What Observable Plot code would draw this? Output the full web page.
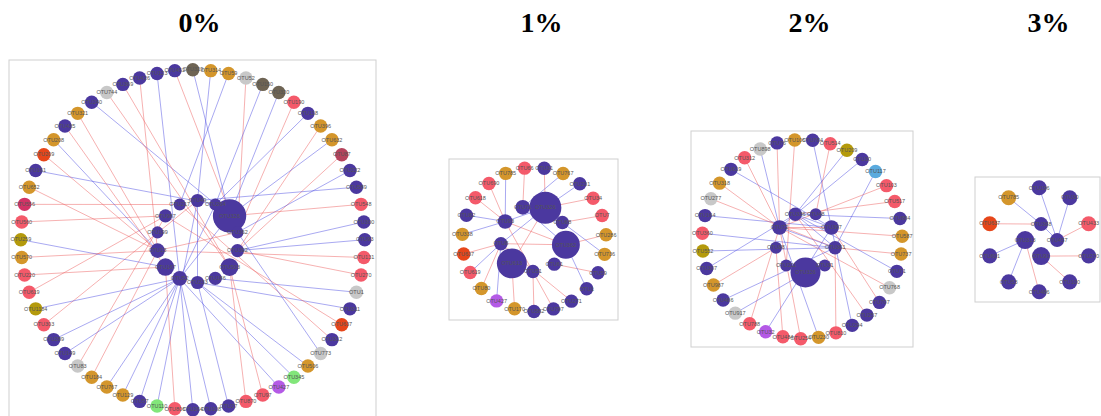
<!DOCTYPE html>
<html><head><meta charset="utf-8">
<script src="https://cdn.jsdelivr.net/npm/d3@7"></script>
<script src="https://cdn.jsdelivr.net/npm/@observablehq/plot@0.6"></script>
<style>body{margin:0;background:#fff}</style>
</head><body><div id="chart"></div>
<script>
// ---------------- DATA ----------------
const titles = ["0%", "1%", "2%", "3%"];

// taxonomic groups (node colour categories)
const groupCodes  = ["P", "A", "B", "F", "Ac", "C", "G", "Pl", "V", "N", "Cy", "Ar"];
const groupColors = ["#4b389f", "#d4962b", "#f45a6a", "#c8c8c8", "#6e6454", "#e6461a", "#b49a0c", "#b5435c", "#d23366", "#82e67a", "#b45ae6", "#5aaade"];

// Panel 0%
const outerLabels0 = ["OTU93","OTU131","OTU270","OTU1","OTU311","OTU637","OTU312","OTU773","OTU506","OTU345","OTU427","OTU97","OTU870","OTU27","OTU108","OTU264","OTU806","OTU110","OTU57","OTU129","OTU767","OTU184","OTU83","OTU149","OTU289","OTU303","OTU1184","OTU619","OTU220","OTU570","OTU259","OTU560","OTU556","OTU652","OTU161","OTU209","OTU208","OTU435","OTU321","OTU240","OTU744","OTU369","OTU426","OTU123","OTU452","OTU329","OTU314","OTU59","OTU52","OTU150","OTU320","OTU190","OTU118","OTU396","OTU632","OTU87","OTU222","OTU589","OTU548","OTU300"];
const outerGroups0 = ["P","B","B","F","P","C","P","F","A","N","Cy","B","B","P","P","P","B","N","P","A","A","A","F","P","P","B","G","B","B","A","G","B","V","A","P","C","A","P","A","P","F","P","P","P","P","Ac","A","A","F","Ac","Ac","B","P","A","A","Pl","P","P","B","P"];
const innerLabels0 = ["OTU49","OTU264","OTU326","OTU362","OTU392","OTU503","OTU186","OTU233","OTU52","OTU167","OTU13","OTU199","OTU987","OTU217"];
const innerAbund0  = [1.2, 1.0, 7.7, 1.0, 1.2, 2.2, 1.2, 1.2, 1.5, 2.1, 1.5, 1.0, 1.2, 1.0];
const edges0 = [[0,4,"-"],[1,10,"+"],[2,4,"+"],[3,6,"-"],[4,7,"-"],[5,12,"+"],[6,13,"+"],[7,3,"-"],[8,7,"-"],[9,7,"-"],[10,8,"-"],[11,5,"+"],[12,5,"+"],[13,7,"-"],[14,8,"-"],[15,8,"-"],[16,9,"+"],[17,0,"-"],[18,8,"-"],[19,8,"-"],[20,8,"-"],[21,10,"+"],[22,12,"+"],[23,8,"-"],[24,8,"-"],[25,0,"+"],[26,8,"-"],[27,12,"+"],[28,9,"+"],[29,10,"+"],[30,9,"-"],[31,12,"+"],[32,13,"+"],[33,10,"+"],[34,1,"-"],[35,10,"+"],[36,10,"-"],[37,9,"+"],[38,10,"+"],[39,2,"-"],[40,5,"+"],[41,5,"+"],[42,10,"+"],[43,8,"-"],[44,3,"+"],[45,2,"-"],[46,0,"-"],[47,13,"-"],[48,3,"+"],[49,1,"-"],[50,2,"-"],[51,3,"+"],[52,1,"-"],[53,4,"+"],[54,2,"-"],[55,4,"+"],[56,3,"-"],[57,0,"-"],[58,2,"+"],[59,4,"-"]];
const innerEdges0 = [[8,1,"-"],[8,2,"-"],[10,3,"+"],[0,7,"-"]];

// Panel 1%
const outerLabels1 = ["OTU31","OTU767","OTU231","OTU34","OTU7","OTU286","OTU736","OTU59","OTU1","OTU271","OTU797","OTU582","OTU170","OTU427","OTU80","OTU619","OTU637","OTU338","OTU82","OTU618","OTU690","OTU785","OTU66"];
const outerGroups1 = ["P","A","P","B","B","A","A","P","P","P","P","P","A","Cy","A","B","C","A","P","B","B","A","B"];
const innerLabels1 = ["OTU326","OTU68","OTU362","OTU61","OTU51","OTU613","OTU8","OTU93","OTU71"];
const innerAbund1  = [7.1, 1.25, 5.4, 1.25, 1.25, 6.2, 1.25, 1.5, 1.5];
const edges1 = [[0,0,"+"],[1,8,"-"],[2,0,"-"],[3,0,"+"],[4,1,"+"],[5,2,"+"],[6,1,"-"],[7,3,"+"],[8,2,"-"],[9,6,"+"],[10,7,"+"],[11,4,"+"],[12,5,"+"],[13,6,"-"],[14,6,"+"],[15,6,"-"],[16,6,"+"],[17,7,"-"],[18,7,"-"],[19,7,"+"],[20,7,"+"],[21,7,"-"],[22,8,"+"]];
const innerEdges1 = [[7,0,"-"],[7,2,"+"],[6,0,"-"],[6,2,"+"],[5,0,"+"],[8,2,"-"]];

// Panel 2%
const outerLabels2 = ["OTU784","OTU514","OTU209","OTU30","OTU117","OTU103","OTU517","OTU884","OTU587","OTU737","OTU71","OTU768","OTU707","OTU257","OTU294","OTU810","OTU230","OTU254","OTU484","OTU32","OTU788","OTU917","OTU486","OTU987","OTU307","OTU552","OTU360","OTU164","OTU277","OTU318","OTU619","OTU312","OTU898","OTU76","OTU106"];
const outerGroups2 = ["P","B","G","P","Ar","B","B","P","A","A","P","F","P","P","P","B","A","B","B","Cy","B","F","P","A","P","G","B","P","F","A","P","B","F","P","A"];
const innerLabels2 = ["OTU326","OTU211","OTU88","OTU72","OTU336","OTU48","OTU397","OTU361","OTU31"];
const innerAbund2  = [6.2, 1.0, 1.0, 1.5, 1.25, 1.0, 1.5, 1.25, 1.0];
const edges2 = [[0,6,"-"],[1,5,"+"],[2,4,"-"],[3,3,"-"],[4,7,"-"],[5,3,"+"],[6,4,"+"],[7,4,"-"],[8,3,"+"],[9,7,"+"],[10,4,"-"],[11,3,"+"],[12,6,"+"],[13,4,"+"],[14,6,"-"],[15,7,"+"],[16,3,"-"],[17,3,"+"],[18,2,"+"],[19,6,"-"],[20,3,"+"],[21,0,"-"],[22,7,"-"],[23,2,"+"],[24,4,"-"],[25,7,"-"],[26,7,"-"],[27,6,"-"],[28,7,"+"],[29,3,"+"],[30,6,"-"],[31,3,"+"],[32,3,"-"],[33,3,"+"],[34,1,"+"]];
const innerEdges2 = [[4,7,"-"],[3,6,"+"],[4,6,"-"],[3,7,"-"]];

// Panel 3%
const outerLabels3 = ["OTU196","OTU30","OTU433","OTU270","OTU100","OTU486","OTU53","OTU601","OTU637","OTU785"];
const outerGroups3 = ["P","P","B","P","P","P","P","P","C","A"];
const innerLabels3 = ["OTU368","OTU457","OTU91","OTU313"];
const innerAbund3  = [1.36, 1.36, 2.24, 2.24];
const edges3 = [[9,0,"-"],[8,0,"+"],[0,1,"-"],[1,1,"-"],[2,1,"+"],[3,2,"+"],[4,2,"+"],[5,3,"+"],[6,3,"-"],[7,3,"-"]];
const innerEdges3 = [[0,1,"-"]];

const outerAbund = [1.25, 1.25, 1.25, 1.56];

// ---------------- LAYOUT (circular layout per panel) ----------------
const layout = [
  {title:{x:199, y:23},  frame:{x1:9,   y1:60,  x2:376,  y2:430},
   outer:{cx:192.3, cy:239.2, rx:172, ry:170, start:0},   inner:{cx:197, cy:241, r:41, start:-90}},
  {title:{x:541, y:23},  frame:{x1:449, y1:159, x2:618,  y2:320},
   outer:{cx:533.7, cy:239, rx:72, ry:72, start:-82},     inner:{cx:533, cy:238, r:33, start:-69}},
  {title:{x:809, y:23},  frame:{x1:691, y1:131, x2:913,  y2:347},
   outer:{cx:801.7, cy:238.7, rx:100, ry:99.5, start:-84}, inner:{cx:805, cy:242, r:30, start:90}},
  {title:{x:1048, y:23}, frame:{x1:975, y1:177, x2:1100, y2:302},
   outer:{cx:1038.7, cy:239.3, rx:52, ry:52, start:-90},  inner:{cx:1040.6, cy:239.6, r:16, start:-90}}
];

const panelsData = [
  {oL:outerLabels0, oG:outerGroups0, iL:innerLabels0, iA:innerAbund0, e:edges0, ie:innerEdges0},
  {oL:outerLabels1, oG:outerGroups1, iL:innerLabels1, iA:innerAbund1, e:edges1, ie:innerEdges1},
  {oL:outerLabels2, oG:outerGroups2, iL:innerLabels2, iA:innerAbund2, e:edges2, ie:innerEdges2},
  {oL:outerLabels3, oG:outerGroups3, iL:innerLabels3, iA:innerAbund3, e:edges3, ie:innerEdges3}
];

const nodes = [], links = [], frames = [], titleData = [];
const rad = d => d * Math.PI / 180;
panelsData.forEach((pd, p) => {
  const L = layout[p];
  frames.push(L.frame);
  titleData.push({title: titles[p], x: L.title.x, y: L.title.y});
  const n = pd.oL.length, m = pd.iL.length;
  const outer = pd.oL.map((lab, i) => {
    const a = rad(L.outer.start + i * 360 / n);
    return {label: lab, group: pd.oG[i], abundance: outerAbund[p],
            x: L.outer.cx + L.outer.rx * Math.cos(a), y: L.outer.cy + L.outer.ry * Math.sin(a)};
  });
  const inner = pd.iL.map((lab, j) => {
    const a = rad(L.inner.start + j * 360 / m);
    return {label: lab, group: "P", abundance: pd.iA[j],
            x: L.inner.cx + L.inner.r * Math.cos(a), y: L.inner.cy + L.inner.r * Math.sin(a)};
  });
  pd.e.forEach(([o, i, s]) => links.push({x1: outer[o].x, y1: outer[o].y, x2: inner[i].x, y2: inner[i].y, sign: s === "+" ? "positive" : "negative"}));
  pd.ie.forEach(([a, b, s]) => links.push({x1: inner[a].x, y1: inner[a].y, x2: inner[b].x, y2: inner[b].y, sign: s === "+" ? "positive" : "negative"}));
  nodes.push(...outer, ...inner);
});

const chart = Plot.plot({
  width: 1101, height: 416, margin: 0,
  x: {domain: [0, 1101], range: [0, 1101], axis: null},
  y: {domain: [0, 416], range: [0, 416], axis: null},
  r: {type: "sqrt", domain: [0, 8], range: [0, 17]},
  color: {domain: [...groupCodes, "positive", "negative"], range: [...groupColors, "#ec5a5a", "#4a4ae2"]},
  style: {background: "white", overflow: "hidden"},
  marks: [
    Plot.rect(frames, {x1: "x1", x2: "x2", y1: "y1", y2: "y2", fill: "white", stroke: "#cfcfcf", strokeWidth: 1}),
    Plot.link(links, {x1: "x1", y1: "y1", x2: "x2", y2: "y2", stroke: "sign", strokeWidth: 0.8, strokeOpacity: 0.6}),
    Plot.dot(nodes, {x: "x", y: "y", r: "abundance", fill: "group", stroke: "none"}),
    Plot.text(nodes, {x: "x", y: "y", text: "label", fontSize: 5.5, fill: "#555", fontFamily: "Liberation Sans, Arial, sans-serif"}),
    Plot.text(titleData, {x: "x", y: "y", text: "title", fontSize: 28, fontWeight: "bold", fill: "black", fontFamily: "Liberation Serif, Times New Roman, serif"})
  ]
});
document.getElementById("chart").appendChild(chart);
</script>
</body></html>
